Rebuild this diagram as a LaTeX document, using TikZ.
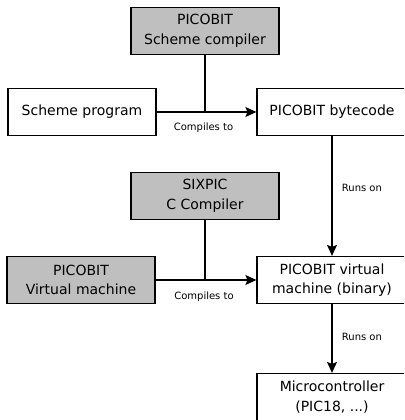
\documentclass[tikz,border=0pt]{standalone}
\usepackage{fontspec}
\setmainfont{DejaVu Sans}
\usetikzlibrary{arrows.meta}

\begin{document}
\begin{tikzpicture}[x=1pt, y=-1pt,
    box/.style = {draw, line width=1.2pt, minimum width=148pt, minimum height=47pt,
                  inner sep=0pt, align=center, font=\fontsize{14}{19.5}\selectfont},
    tool/.style = {box, fill=black!25},
    lbl/.style = {font=\fontsize{10}{12}\selectfont},
    arr/.style = {-{Stealth[length=11pt,width=10pt,inset=2pt]}, line width=1.2pt}]
                \useasboundingbox (0,0) rectangle (404,420);
                \clip (0,0) rectangle (404,420);

                % compile the scheme program
                \node[tool] (comp) at (205,31) {PICOBIT\\Scheme compiler};
                \node[box] (prog) at (82,112) {Scheme program};
                \node[box, minimum width=150pt] (bytecode) at (332,112) {PICOBIT bytecode};
                \coordinate (j1) at (comp.south |- prog.east);

                \draw [arr] (prog) -- node[lbl, yshift=-16pt, xshift=-3pt] {Compiles to} (bytecode);
                \draw [line width=1.2pt] (comp) -- (j1);

                % compile the virtual machine
                \node[tool] (sixpic) at (205,196) {SIXPIC\\C Compiler};
                \node[tool] (vm) at (81,280) {PICOBIT\\Virtual machine};
                \node[box, minimum width=150pt] (vmbin) at (332,280) {PICOBIT virtual\\machine (binary)};
                \node[box, minimum width=150pt] (mcu) at (332,397) {Microcontroller\\(PIC18, ...)};
                \coordinate (j2) at (sixpic.south |- vm.east);

                \draw [arr] (vm) -- node[lbl, yshift=-17pt, xshift=-2pt] {Compiles to} (vmbin);
                \draw [line width=1.2pt] (sixpic) -- (j2);

                % runs on
                \draw [arr] (bytecode) -- node[lbl, pos=0.43, right=6pt] {Runs on} (vmbin);
                \draw [arr] (vmbin) -- node[lbl, pos=0.48, right=6pt] {Runs on} (mcu);
            \end{tikzpicture}
\end{document}
